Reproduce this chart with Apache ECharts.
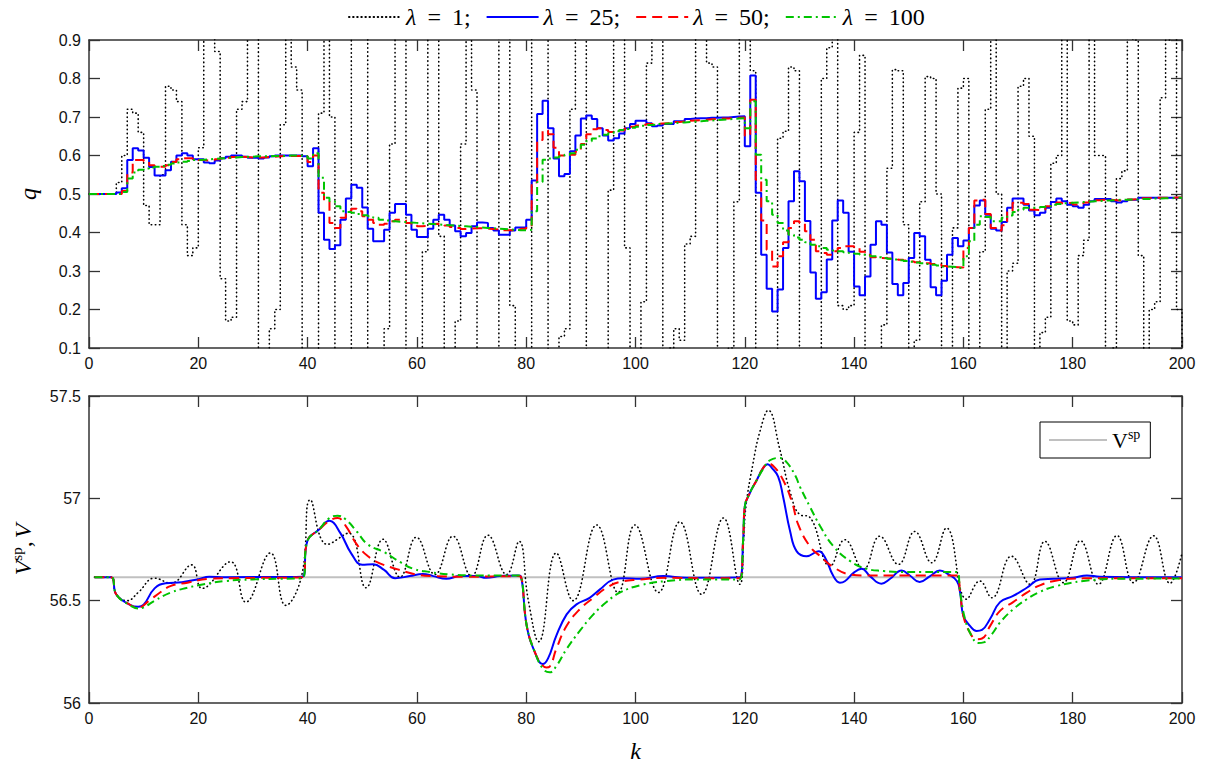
<!DOCTYPE html>
<html>
<head>
<meta charset="utf-8">
<script src="https://cdn.jsdelivr.net/npm/echarts@6.0.0/dist/echarts.min.js"></script>
<style>
  html, body { margin: 0; padding: 0; background: #fff; }
  #chart { width: 1208px; height: 764px; }
</style>
</head>
<body>
<div id="chart"></div>
<script>
// Control input q(k), k = 0..200 (zero-order hold), one array per weighting lambda
const q1 = [
  0.50, 0.50, 0.50, 0.50, 0.50, 0.53, 0.60, 0.72, 0.71, 0.66,
  0.47, 0.42, 0.42, 0.55, 0.78, 0.77, 0.74, 0.42, 0.34, 0.36,
  0.62, 0.98, 0.92, 0.87, 0.28, 0.17, 0.18, 0.72, 0.74, 1.30,
  1.10, -0.20, -0.30, 0.15, 0.20, 0.68, 1.40, 0.83, 0.77, -0.20,
  -0.40, -0.20, 0.71, 1.40, 0.70, -0.30, -0.40, -0.10, 1.20, 1.40,
  1.10, -0.20, -0.30, -0.20, 0.15, 0.63, 1.30, 1.40, -0.10, -0.40,
  -0.30, 0.35, 1.20, 1.40, 0.39, -0.30, -0.40, 0.17, 0.63, 1.40,
  0.77, -0.30, -0.40, -0.20, 0.00, 1.30, 1.30, 0.21, -0.30, -0.40,
  -0.20, 1.20, 1.40, 1.20, -0.20, -0.30, 0.13, 0.15, 0.72, 1.30,
  1.30, -0.20, -0.40, -0.20, 0.05, 0.51, 1.40, 1.20, 0.36, -0.30,
  -0.40, 0.22, 0.84, 1.30, 1.20, -0.10, 0.10, 0.15, 0.12, 0.37,
  0.39, 1.30, 1.30, 0.84, 0.83, -0.30, -0.40, 0.10, 0.48, 1.30,
  1.30, 0.82, -0.40, -0.50, -0.30, 0.00, 0.645, 0.663, 0.83, 0.82,
  -0.30, -0.40, -0.30, -0.10, 0.80, 0.88, 1.30, 0.21, 0.20, 0.21,
  0.66, 0.86, -0.30, -0.40, -0.20, 0.16, 0.567, 0.823, 0.82, 0.42,
  -0.30, 0.12, 0.48, 0.805, 0.80, 0.50, -0.30, 0.00, 0.412, 0.775,
  0.80, -0.30, -0.20, 0.35, 0.72, 1.30, 0.50, -0.30, 0.30, 0.32,
  0.78, 0.80, 0.65, -0.20, 0.14, 0.18, 0.58, 0.60, 1.20, 0.17,
  0.16, 0.34, 0.38, 1.20, 0.60, 0.60, -0.10, 0.10, 0.54, 0.56,
  1.20, 0.90, 0.34, -0.10, 0.20, 0.22, 0.75, 0.90, 1.20, 0.20,
  -0.30
];
const q25 = [
  0.500, 0.500, 0.500, 0.500, 0.500, 0.504, 0.515, 0.588, 0.619, 0.613,
  0.594, 0.570, 0.548, 0.548, 0.562, 0.584, 0.600, 0.606, 0.600, 0.590,
  0.590, 0.582, 0.580, 0.587, 0.593, 0.597, 0.600, 0.600, 0.597, 0.594,
  0.594, 0.592, 0.595, 0.598, 0.600, 0.600, 0.600, 0.600, 0.600, 0.598,
  0.572, 0.619, 0.451, 0.381, 0.357, 0.367, 0.433, 0.488, 0.524, 0.516,
  0.465, 0.410, 0.377, 0.377, 0.407, 0.451, 0.474, 0.474, 0.446, 0.407,
  0.388, 0.388, 0.410, 0.433, 0.446, 0.433, 0.418, 0.403, 0.390, 0.399,
  0.416, 0.426, 0.425, 0.412, 0.405, 0.394, 0.394, 0.405, 0.413, 0.413,
  0.433, 0.535, 0.708, 0.742, 0.671, 0.592, 0.546, 0.552, 0.611, 0.652,
  0.696, 0.704, 0.695, 0.671, 0.652, 0.639, 0.645, 0.657, 0.671, 0.682,
  0.690, 0.690, 0.684, 0.676, 0.678, 0.682, 0.682, 0.689, 0.689, 0.695,
  0.696, 0.697, 0.697, 0.698, 0.698, 0.699, 0.699, 0.700, 0.701, 0.702,
  0.624, 0.808, 0.503, 0.342, 0.254, 0.195, 0.252, 0.360, 0.481, 0.559,
  0.533, 0.430, 0.296, 0.228, 0.245, 0.330, 0.431, 0.483, 0.451, 0.350,
  0.260, 0.237, 0.286, 0.368, 0.429, 0.420, 0.348, 0.266, 0.237, 0.269,
  0.334, 0.399, 0.390, 0.329, 0.258, 0.237, 0.275, 0.342, 0.386, 0.364,
  0.379, 0.412, 0.470, 0.483, 0.446, 0.410, 0.405, 0.427, 0.464, 0.488,
  0.488, 0.472, 0.457, 0.445, 0.451, 0.464, 0.479, 0.488, 0.481, 0.472,
  0.468, 0.464, 0.472, 0.481, 0.487, 0.487, 0.487, 0.481, 0.478, 0.481,
  0.485, 0.485, 0.490, 0.490, 0.490, 0.490, 0.490, 0.490, 0.490, 0.490,
  0.490
];
const q50 = [
  0.500, 0.500, 0.500, 0.500, 0.500, 0.500, 0.508, 0.556, 0.588, 0.588,
  0.585, 0.575, 0.571, 0.571, 0.575, 0.583, 0.590, 0.593, 0.593, 0.590,
  0.588, 0.587, 0.588, 0.590, 0.592, 0.594, 0.596, 0.597, 0.596, 0.595,
  0.595, 0.595, 0.596, 0.597, 0.598, 0.599, 0.599, 0.599, 0.599, 0.598,
  0.583, 0.600, 0.503, 0.481, 0.425, 0.412, 0.438, 0.455, 0.462, 0.455,
  0.442, 0.433, 0.425, 0.420, 0.423, 0.429, 0.433, 0.432, 0.425, 0.419,
  0.416, 0.417, 0.422, 0.423, 0.421, 0.418, 0.414, 0.412, 0.409, 0.410,
  0.411, 0.411, 0.410, 0.409, 0.408, 0.406, 0.406, 0.406, 0.408, 0.410,
  0.415, 0.530, 0.640, 0.665, 0.655, 0.620, 0.600, 0.600, 0.602, 0.610,
  0.630, 0.655, 0.668, 0.671, 0.666, 0.661, 0.661, 0.665, 0.670, 0.675,
  0.678, 0.680, 0.682, 0.682, 0.683, 0.684, 0.685, 0.687, 0.688, 0.690,
  0.691, 0.692, 0.693, 0.694, 0.695, 0.696, 0.696, 0.697, 0.698, 0.699,
  0.651, 0.745, 0.537, 0.431, 0.355, 0.312, 0.338, 0.375, 0.412, 0.429,
  0.425, 0.403, 0.381, 0.351, 0.347, 0.342, 0.351, 0.360, 0.364, 0.364,
  0.360, 0.350, 0.342, 0.336, 0.334, 0.333, 0.332, 0.331, 0.329, 0.327,
  0.325, 0.323, 0.322, 0.320, 0.318, 0.316, 0.313, 0.311, 0.310, 0.309,
  0.360, 0.412, 0.483, 0.485, 0.448, 0.412, 0.405, 0.419, 0.453, 0.477,
  0.477, 0.474, 0.459, 0.458, 0.459, 0.468, 0.472, 0.478, 0.476, 0.477,
  0.473, 0.476, 0.478, 0.482, 0.484, 0.485, 0.485, 0.484, 0.483, 0.484,
  0.486, 0.487, 0.489, 0.489, 0.490, 0.490, 0.490, 0.490, 0.491, 0.491,
  0.491
];
const q100 = [
  0.500, 0.500, 0.500, 0.500, 0.500, 0.500, 0.505, 0.540, 0.556, 0.563,
  0.566, 0.569, 0.571, 0.573, 0.576, 0.579, 0.582, 0.584, 0.586, 0.588,
  0.589, 0.590, 0.591, 0.592, 0.593, 0.594, 0.595, 0.596, 0.597, 0.597,
  0.598, 0.598, 0.598, 0.599, 0.599, 0.599, 0.600, 0.600, 0.600, 0.598,
  0.592, 0.606, 0.542, 0.490, 0.481, 0.468, 0.455, 0.453, 0.451, 0.448,
  0.445, 0.442, 0.438, 0.433, 0.431, 0.429, 0.428, 0.427, 0.426, 0.425,
  0.424, 0.423, 0.422, 0.421, 0.420, 0.419, 0.418, 0.417, 0.416, 0.415,
  0.414, 0.413, 0.412, 0.411, 0.410, 0.409, 0.408, 0.407, 0.406, 0.406,
  0.407, 0.455, 0.531, 0.589, 0.592, 0.595, 0.598, 0.602, 0.606, 0.615,
  0.628, 0.637, 0.644, 0.650, 0.654, 0.658, 0.663, 0.666, 0.669, 0.672,
  0.675, 0.677, 0.679, 0.680, 0.682, 0.683, 0.684, 0.685, 0.686, 0.687,
  0.688, 0.689, 0.690, 0.691, 0.692, 0.693, 0.694, 0.695, 0.696, 0.697,
  0.671, 0.741, 0.602, 0.537, 0.481, 0.446, 0.425, 0.405, 0.394, 0.387,
  0.381, 0.375, 0.368, 0.364, 0.360, 0.355, 0.353, 0.351, 0.349, 0.347,
  0.345, 0.342, 0.340, 0.338, 0.336, 0.334, 0.332, 0.330, 0.328, 0.326,
  0.324, 0.322, 0.320, 0.318, 0.316, 0.314, 0.312, 0.311, 0.310, 0.308,
  0.338, 0.377, 0.420, 0.442, 0.440, 0.429, 0.429, 0.438, 0.444, 0.453,
  0.459, 0.464, 0.464, 0.464, 0.466, 0.468, 0.472, 0.474, 0.476, 0.477,
  0.478, 0.479, 0.480, 0.481, 0.482, 0.483, 0.483, 0.484, 0.485, 0.485,
  0.486, 0.486, 0.487, 0.487, 0.488, 0.488, 0.489, 0.489, 0.490, 0.490,
  0.490
];

// Output V(k) as [k, V] samples for each lambda, plus the setpoint
const vSetpoint = 56.615;
const vRange = [1, 200];
const v1 = [
  [1, 56.615], [4, 56.615], [5, 56.53], [7, 56.5], [9, 56.54], [12, 56.61], [15, 56.585],
  [18.8, 56.675], [20.7, 56.56], [25.9, 56.69], [28.7, 56.493], [33.2, 56.733], [36, 56.477],
  [38.9, 56.62], [40.5, 56.993], [43.6, 56.775], [47.5, 56.83], [50.7, 56.563], [53.8, 56.8],
  [56.9, 56.615], [59.9, 56.81], [63.3, 56.628], [66.6, 56.815], [70, 56.62], [73, 56.82],
  [76.4, 56.628], [78.7, 56.79], [80.4, 56.5], [82.3, 56.3], [85.5, 56.733], [88.6, 56.5],
  [92.9, 56.87], [96.8, 56.54], [99.9, 56.87], [104.2, 56.54], [108.1, 56.885], [112.1, 56.531],
  [116.1, 56.904], [119.1, 56.58], [119.8, 56.8], [120.2, 56.96], [121.5, 57.17], [122.8, 57.33],
  [124.3, 57.43], [126.4, 57.24], [128.3, 57.03], [130.1, 56.92], [131.8, 56.91], [135.6, 56.669],
  [138.3, 56.798], [141.7, 56.653], [144.7, 56.815], [148.1, 56.677], [151.1, 56.838],
  [154.2, 56.685], [156.9, 56.855], [160.6, 56.507], [163, 56.596], [165.2, 56.514],
  [168.8, 56.717], [172.2, 56.58], [174.9, 56.79], [178.3, 56.588], [181.4, 56.793],
  [184.7, 56.58], [188.1, 56.818], [191.1, 56.588], [194.8, 56.817], [197.8, 56.585], [200, 56.733]
];
const v25 = [
  [1, 56.615], [4, 56.615], [5, 56.53], [7.5, 56.48], [9, 56.47], [10, 56.48], [12, 56.56],
  [14, 56.585], [17, 56.59], [20, 56.605], [22, 56.617], [25, 56.615], [39, 56.617], [40, 56.795],
  [42, 56.845], [44, 56.89], [46, 56.83], [48, 56.73], [50, 56.675], [52, 56.678], [54, 56.65],
  [56, 56.61], [58.7, 56.62], [61.1, 56.63], [63, 56.62], [65.4, 56.607], [67.9, 56.62],
  [70.9, 56.62], [72.7, 56.612], [75.2, 56.62], [78.5, 56.623], [79, 56.62], [80.1, 56.377],
  [81.6, 56.247], [83, 56.19], [84, 56.218], [85.5, 56.328], [87.4, 56.433], [89.2, 56.482],
  [91.6, 56.514], [93.5, 56.555], [95.9, 56.603], [97.8, 56.61], [100.8, 56.607], [105.1, 56.62],
  [109.3, 56.612], [119.1, 56.615], [119.7, 56.798], [120, 56.96], [120.9, 57.025], [122.2, 57.09],
  [123.4, 57.15], [124.2, 57.167], [124.9, 57.15], [126.1, 57.106], [127, 57.009], [128.3, 56.838],
  [129.5, 56.741], [131.3, 56.717], [133.5, 56.741], [134.7, 56.71], [136.2, 56.62], [137.4, 56.588],
  [138.3, 56.595], [139.9, 56.636], [141.4, 56.656], [142.9, 56.62], [145, 56.583], [146.6, 56.607],
  [148.7, 56.648], [150.2, 56.623], [152, 56.591], [153.9, 56.62], [155.7, 56.648], [157.3, 56.628],
  [158.8, 56.596], [159.4, 56.54], [160, 56.425], [161.2, 56.377], [162.4, 56.352], [163.4, 56.357],
  [164.9, 56.412], [166.7, 56.493], [169.1, 56.523], [171.6, 56.563], [174, 56.604], [176.5, 56.607],
  [180.1, 56.612], [182.6, 56.623], [185, 56.617], [191, 56.615], [200, 56.615]
];
const v50 = [
  [1, 56.615], [4, 56.615], [5, 56.53], [7.5, 56.48], [9, 56.467], [11, 56.5], [13, 56.54],
  [15, 56.572], [18, 56.588], [22, 56.607], [26, 56.61], [39, 56.615], [40, 56.795], [42, 56.845],
  [44, 56.89], [45.5, 56.904], [47, 56.864], [49, 56.775], [51, 56.718], [53, 56.685],
  [56.5, 56.653], [59.9, 56.628], [63, 56.62], [69, 56.617], [78.5, 56.62], [79, 56.618],
  [80.1, 56.377], [81.6, 56.247], [82.8, 56.19], [83.7, 56.174], [84.3, 56.178], [85.5, 56.264],
  [87.4, 56.377], [89.8, 56.458], [92.3, 56.514], [94.7, 56.563], [97.1, 56.591], [100.8, 56.603],
  [105.7, 56.612], [111.8, 56.61], [119.1, 56.61], [119.7, 56.798], [120, 56.96], [120.9, 57.025],
  [122.2, 57.09], [123.4, 57.15], [124.3, 57.17], [125.5, 57.15], [127, 57.09], [128.6, 56.985],
  [129.8, 56.87], [131.9, 56.766], [133.8, 56.717], [136.2, 56.664], [139.3, 56.628],
  [142.3, 56.623], [148.4, 56.623], [158.8, 56.623], [159.4, 56.54], [160, 56.425], [161.2, 56.344],
  [162.4, 56.312], [163.4, 56.315], [164.9, 56.377], [166.7, 56.45], [169.1, 56.493],
  [171.6, 56.539], [174, 56.575], [177.1, 56.599], [182, 56.609], [191.1, 56.61], [200, 56.61]
];
const v100 = [
  [1, 56.615], [4, 56.615], [5, 56.53], [7.5, 56.477], [9, 56.462], [10, 56.467], [12, 56.5],
  [15, 56.54], [18, 56.563], [21, 56.58], [25, 56.596], [30, 56.604], [35, 56.607], [39, 56.61],
  [40, 56.795], [42, 56.845], [44, 56.904], [45.5, 56.915], [47, 56.896], [49, 56.838],
  [51, 56.775], [54, 56.737], [56.9, 56.689], [59.3, 56.656], [62.4, 56.64], [66, 56.628],
  [72.1, 56.623], [78.5, 56.623], [79, 56.62], [80.1, 56.377], [81.6, 56.247], [83.1, 56.166],
  [84.3, 56.15], [85.5, 56.18], [87.4, 56.264], [89.8, 56.352], [92.3, 56.433], [94.7, 56.493],
  [97.1, 56.539], [100.8, 56.575], [105.7, 56.596], [111.8, 56.604], [119.1, 56.604],
  [119.7, 56.798], [120, 56.96], [120.9, 57.025], [122.2, 57.09], [123.4, 57.145], [124.6, 57.186],
  [126.4, 57.197], [127.6, 57.178], [129.2, 57.113], [130.1, 57.056], [131.9, 56.96],
  [133.8, 56.864], [136.2, 56.766], [139.3, 56.693], [142.3, 56.656], [145.4, 56.645],
  [148.4, 56.64], [158.8, 56.64], [159.4, 56.54], [160.3, 56.41], [161.5, 56.328], [162.7, 56.293],
  [163.7, 56.296], [165.2, 56.336], [166.7, 56.393], [169.1, 56.458], [171.6, 56.507],
  [174, 56.543], [177.1, 56.572], [182, 56.596], [188.1, 56.607], [200, 56.608]
];

const lambdaNames = ['λ = 1;', 'λ = 25;', 'λ = 50;', 'λ = 100'];
const setpointName = 'Vsp';

const SERIF = '"Liberation Serif", "DejaVu Serif", serif';
const SANS = '"Liberation Sans", Arial, Helvetica, sans-serif';
const FRAME = '#333';

const styles = [
  { color: '#000000', width: 1.6, type: [0.5, 3.6], cap: 'round' },
  { color: '#0000ff', width: 2, type: 'solid' },
  { color: '#ff0000', width: 2, type: [10, 6] },
  { color: '#00c400', width: 2, type: [8, 4, 2, 4] }
];

const held = arr => arr.map((v, k) => [k, v]);

function xAxisDef(gridIndex, position, withLabels, extra) {
  return Object.assign({
    type: 'value', gridIndex, position, min: 0, max: 200, interval: 20,
    axisLine: { show: true, onZero: false, lineStyle: { color: FRAME, width: 1.5 } },
    axisTick: { show: true, inside: true, length: 11, lineStyle: { color: FRAME, width: 1.3 } },
    axisLabel: { show: withLabels, color: '#111', fontFamily: SANS, fontSize: 16, margin: 7 },
    splitLine: { show: false }
  }, extra || {});
}
function yAxisDef(gridIndex, position, withLabels, min, max, interval, extra) {
  return Object.assign({
    type: 'value', gridIndex, position, min, max, interval,
    axisLine: { show: true, onZero: false, lineStyle: { color: FRAME, width: 1.5 } },
    axisTick: { show: true, inside: true, length: 11, lineStyle: { color: FRAME, width: 1.3 } },
    axisLabel: { show: withLabels, color: '#111', fontFamily: SANS, fontSize: 16, margin: 8 },
    splitLine: { show: false }
  }, extra || {});
}

const topData = [q1, q25, q50, q100];
const bottomData = [v1, v25, v50, v100];

const series = [];
lambdaNames.forEach((name, i) => {
  series.push({
    name, type: 'line', xAxisIndex: 0, yAxisIndex: 0,
    data: held(topData[i]), step: 'end',
    symbol: 'none', lineStyle: styles[i], itemStyle: { color: styles[i].color },
    z: 2 + i, clip: true
  });
});
series.push({
  name: setpointName, type: 'line', xAxisIndex: 2, yAxisIndex: 2,
  data: vRange.map(k => [k, vSetpoint]), symbol: 'none',
  lineStyle: { color: '#c0c0c0', width: 2 }, itemStyle: { color: '#c0c0c0' }, z: 1
});
lambdaNames.forEach((name, i) => {
  series.push({
    name, type: 'line', xAxisIndex: 2, yAxisIndex: 2,
    data: bottomData[i], smooth: 0.45,
    symbol: 'none', lineStyle: styles[i], itemStyle: { color: styles[i].color },
    z: 2 + i, clip: true
  });
});

const option = {
  animation: false,
  backgroundColor: '#ffffff',
  grid: [
    { left: 89, right: 26, top: 40, height: 308 },
    { left: 89, right: 26, top: 396, height: 308 }
  ],
  xAxis: [
    xAxisDef(0, 'bottom', true),
    xAxisDef(0, 'top', false),
    xAxisDef(1, 'bottom', true, {
      name: 'k', nameLocation: 'middle', nameGap: 36,
      nameTextStyle: { fontFamily: SERIF, fontStyle: 'italic', fontSize: 24, color: '#000' }
    }),
    xAxisDef(1, 'top', false)
  ],
  yAxis: [
    yAxisDef(0, 'left', true, 0.1, 0.9, 0.1, {
      name: 'q', nameLocation: 'middle', nameRotate: 90, nameGap: 49,
      nameTextStyle: { fontFamily: SERIF, fontStyle: 'italic', fontSize: 24, color: '#000' }
    }),
    yAxisDef(0, 'right', false, 0.1, 0.9, 0.1),
    yAxisDef(1, 'left', true, 56, 57.5, 0.5, {
      name: '{v|V}{s|sp}{c|,}{v|V}', nameLocation: 'middle', nameRotate: 90, nameGap: 52,
      nameTextStyle: {
        fontFamily: SERIF, fontSize: 24, color: '#000',
        rich: {
          v: { fontFamily: SERIF, fontStyle: 'italic', fontSize: 24, lineHeight: 28, color: '#000' },
          c: { fontFamily: SERIF, fontSize: 24, lineHeight: 28, color: '#000', padding: [0, 3, 0, 0] },
          s: { fontFamily: SERIF, fontSize: 15, lineHeight: 15, verticalAlign: 'top', color: '#000' }
        }
      }
    }),
    yAxisDef(1, 'right', false, 56, 57.5, 0.5)
  ],
  legend: [
    {
      data: lambdaNames, left: 348, top: 5, padding: 0,
      itemWidth: 52, itemHeight: 12, itemGap: 15, selectedMode: false,
      itemStyle: { opacity: 0 },
      formatter: n => n.replace('λ', '{i|λ}').replace('=', '{e|=}'),
      textStyle: {
        fontFamily: SERIF, fontSize: 24, color: '#000',
        rich: {
          i: { fontFamily: SERIF, fontStyle: 'italic', fontSize: 24, color: '#000' },
          e: { fontFamily: SERIF, fontSize: 24, color: '#000', padding: [0, 5, 0, 5] }
        }
      }
    },
    {
      data: [setpointName], left: 1040, top: 422, padding: [5, 10, 5, 8],
      borderColor: '#000', borderWidth: 1, backgroundColor: '#fff',
      itemWidth: 58, itemHeight: 12, selectedMode: false,
      itemStyle: { opacity: 0 },
      formatter: () => 'V{s|sp}',
      textStyle: {
        fontFamily: SERIF, fontSize: 22, lineHeight: 26, color: '#000',
        rich: { s: { fontFamily: SERIF, fontSize: 14, lineHeight: 14, verticalAlign: 'top', color: '#000' } }
      }
    }
  ],
  series
};

const chart = echarts.init(document.getElementById('chart'), null, { renderer: 'svg' });
chart.setOption(option);
</script>
</body>
</html>
